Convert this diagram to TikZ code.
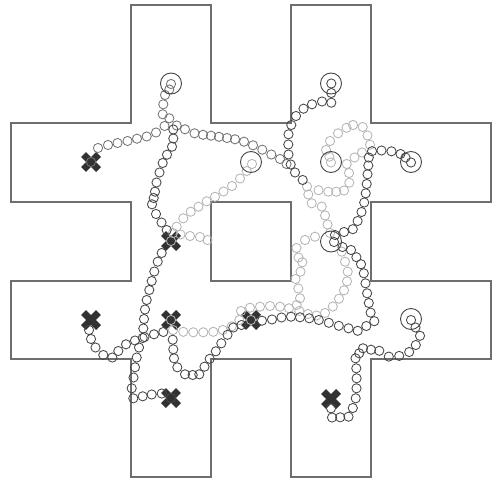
\documentclass[tikz,border=0pt]{standalone}
\usepackage{tikz}
\usepackage{xcolor}
\usetikzlibrary{calc}
\definecolor{wallgray}{RGB}{110,110,110}
\definecolor{pathdark}{RGB}{70,70,70}
\definecolor{pathmid}{RGB}{115,115,115}
\definecolor{pathlight}{RGB}{180,180,180}
\definecolor{crossfill}{RGB}{50,50,50}
\tikzset{
  wall/.style={draw=wallgray, line width=1.1pt},
  pose/.style={line width=0.85pt},
  goalring/.style={draw=pathdark, line width=0.9pt},
  startx/.style={draw=crossfill, line width=6.8pt}
}
\newcommand{\trail}[2]{%
  \foreach \x/\y in {#2} \draw[pose, draw=#1] (\x,\y) circle[radius=4.6pt];}

\begin{document}
\begin{tikzpicture}[x=1pt, y=-1pt]
\useasboundingbox (0,0) rectangle (492,481);
% the hash-shaped workspace
\draw[wall] (131,5) -- (211,5) -- (211,123) -- (291,123) -- (291,5) -- (371,5)
  -- (371,123) -- (491,123) -- (491,202) -- (371,202) -- (371,281) -- (491,281)
  -- (491,359) -- (371,359) -- (371,477) -- (291,477) -- (291,359) -- (211,359)
  -- (211,477) -- (131,477) -- (131,359) -- (11,359) -- (11,281) -- (131,281)
  -- (131,202) -- (11,202) -- (11,123) -- (131,123) -- cycle;
\draw[wall] (211,202) rectangle (291,281);

% start markers
\foreach \x/\y in {91/162, 171/241, 91/320, 171/320, 251/320, 171/398, 331/399}
  \draw[startx] (\x-7.5,\y-7.5) -- (\x+7.5,\y+7.5) (\x-7.5,\y+7.5) -- (\x+7.5,\y-7.5);

% light trails
\trail{pathlight}{171/241, 173/233, 176.7/226.7, 183.3/218.3, 190.7/211.7, 198.5/206.7,
  206.7/201.3, 215/196.8, 223.5/191.5, 232/186, 240/178.5, 246.7/171, 252/164}
\trail{pathlight}{180.5/234.5, 190/236, 200/237, 207.5/240}
\trail{pathlight}{171/320, 173/330, 183.3/331.8, 193.3/332.3, 203.3/332.3, 213.3/331.8,
  222.8/330, 231.7/326.3, 239.3/320, 241/311, 250/307.7, 260/306.7, 270/306,
  280/306.7, 289/308.3, 296.7/305, 300/298.3, 298.3/288.5, 295.5/279,
  300.5/271.7, 302.3/262.3, 298.5/257.5, 296.5/248, 305/240, 315/236.7}
\trail{pathlight}{331/162.5, 329.3/156.7, 326/150, 330/141, 338/133.3,
  346.5/127.8, 353/125, 362.7/127, 367.5/135.5, 370/144.7, 362/152.5,
  354.5/157.5, 346.7/164, 349/173, 349.3/182.7, 344/190.5, 336.3/191.7,
  328.3/191.7, 318.5/190.2, 307/186.5, 308.3/194.5, 311.7/203.3, 321.7/206.5,
  325/215.5, 327.5/224.5, 330/233}
\trail{pathlight}{341.7/251.7, 345/261.7, 347.7/271.7, 347/281.3, 344/290.3,
  339/298.7, 332.8/306.5, 325/313, 316.5/315.5, 307.8/314, 299.3/311}
\trail{pathlight}{251/320}

% mid trails
\trail{pathmid}{91/162, 98/148, 108/145, 117.5/143, 127.5/141, 137/138.7, 146.7/136.5,
  156/132.5, 164.5/126, 162.7/114.3, 163.3/104.3, 165/95, 169.3/89.5, 171/84}
\trail{pathmid}{169.3/118.3, 176.7/125.5, 185/129.3, 194.5/133.3, 203/134.8,
  211/135.7, 219/136.8, 227/138, 235/139.3, 244/141.7, 253/145.3,
  262.3/149.7, 271.3/154.5, 280/159, 286.5/164}

% dark trails
\trail{pathdark}{166.7/230, 161.5/222.5, 156/214, 152/204.3, 153.7/198,
  155/191.7, 156.5/182.5, 159.5/172.5, 162.7/163, 167/154.7, 172/146.7,
  173.3/138.5, 173.3/129.5}
\trail{pathdark}{331.3/83.5, 331.3/93, 331.3/102.7, 322/101.5, 312/104.3,
  303.5/108.7, 296/116, 291.3/125, 288.5/134.3, 288.3/144.5, 288.5/154.5,
  290.7/164.5, 295/172.5, 302.7/180}
\trail{pathdark}{411/162.5, 405.5/157.5, 400.5/154, 391.5/151.3, 381.5/150.5,
  372/151.2, 368.8/157.5, 368.3/165.5, 367.5/174.3, 366.7/184, 365.7/193.3,
  364.2/202.5, 361.5/212, 357.6/221, 352.8/229.2, 344/232, 335/235}
\trail{pathdark}{262/320.7, 272/319.5, 281.5/317.5, 291/316.7, 300/317.3,
  309.3/318.3, 318.8/320, 328.8/322.8, 338.8/325.8, 348.5/328.3, 357.7/330.8,
  366.3/326, 374.3/321.2, 370.6/312.6, 368.8/303, 367.1/293.3, 365.5/283.3,
  363.8/273.3, 361/264.2, 356.4/257.2, 351/250, 342.5/247, 334/242}
\trail{pathdark}{331/408.3, 332/417.5, 340.2/417.3, 348.5/416.7, 352.8/408,
  355.7/398.3, 356.5/388.3, 356.6/378.3, 356.3/368.3, 355.5/358.3,
  359.2/353.3, 363/348.3, 371/349.7, 379.3/350.8, 388.8/356.6, 399.2/355.9,
  409.2/352, 415.8/345, 420/335.8, 415.5/327.5, 411/320}
\trail{pathdark}{89/330, 91/339, 95.5/347.5, 103.3/355, 112.3/357.5,
  118.3/351, 126/344.3, 135/340.5, 144.5/337, 154/334.3, 163.3/332}
\trail{pathdark}{172.7/339.7, 173.3/349.3, 174/358.3, 177.3/367.3, 185/374.3,
  192.7/375, 199.3/374.3, 204.5/366.7, 209.7/358.8, 215.8/351.3, 221.3/343.3,
  227.5/334.8, 233.3/327.5, 241.5/325}
\trail{pathdark}{171/398, 161.7/393.5, 151.7/394.5, 142.7/396.3, 133.3/398.3,
  131.7/388.3, 133.5/377.5, 135/367.3, 136.7/357.5, 139/347.5, 142.7/338,
  143.3/328.5, 144/319, 145/309.5, 146.7/300, 149.3/290, 151.7/281,
  154.3/271.5, 157.7/261.7, 161.7/253}

% goal rings
\foreach \x/\y in {171/83.5, 331/83.5, 251/162, 331/162, 411/162, 331/241.5, 411/319}
  \draw[goalring] (\x,\y) circle[radius=10.5pt];
\end{tikzpicture}
\end{document}
